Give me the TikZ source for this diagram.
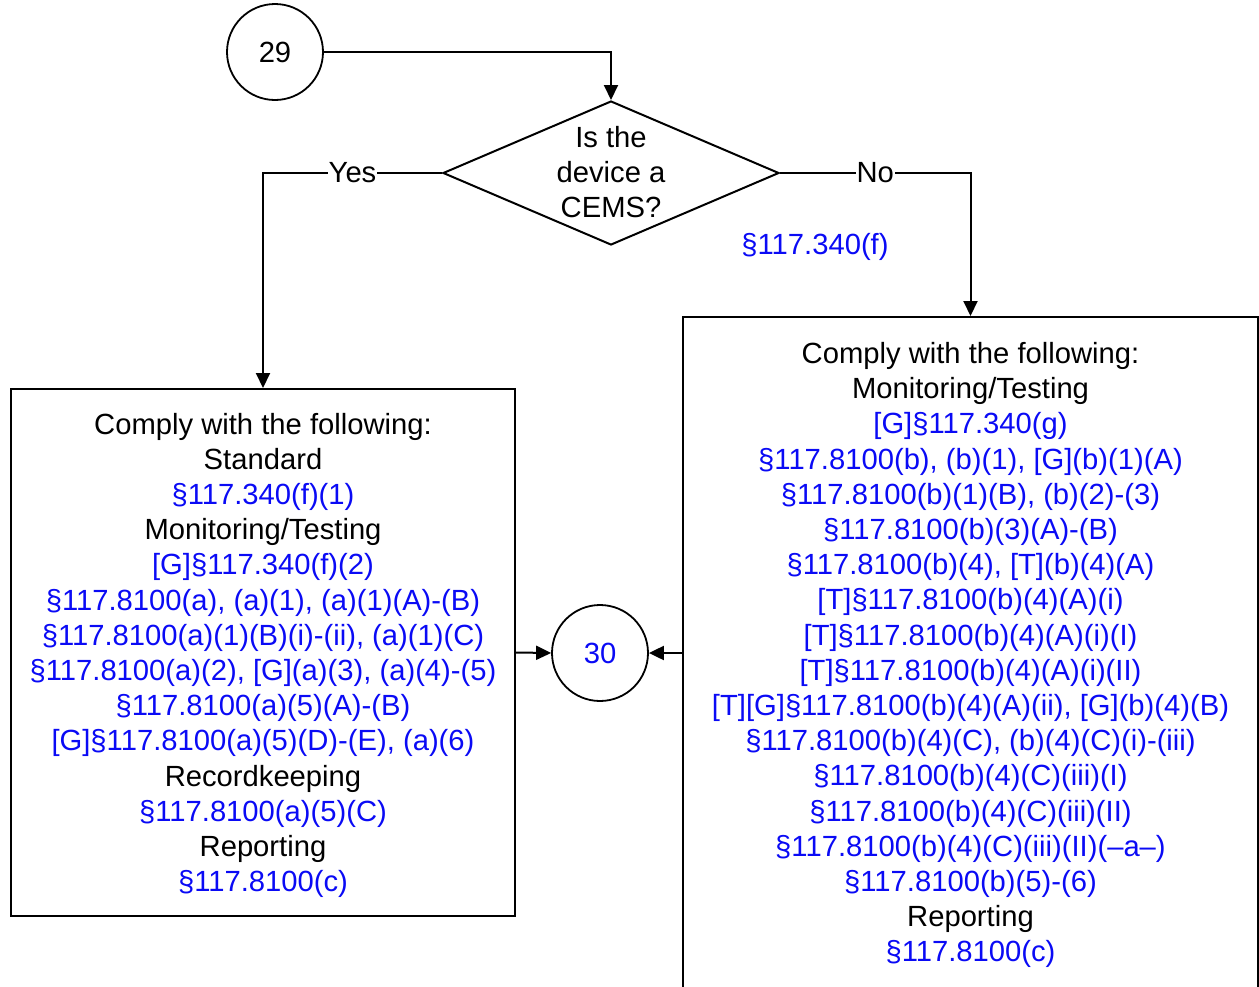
\documentclass[tikz,border=0pt]{standalone}
\usepackage{fontspec}
\setmainfont{Liberation Sans}
\usetikzlibrary{shapes.geometric,arrows.meta}
\definecolor{refblue}{RGB}{10,10,245}
\newcommand{\blueref}[1]{\textcolor{refblue}{#1}}
\begin{document}
\begin{tikzpicture}[x=1pt,y=-1pt,
  every node/.style={font=\fontsize{29.2pt}{35.2pt}\selectfont},
  box/.style={draw, line width=2pt, inner sep=0pt, align=center},
  circ/.style={draw, circle, line width=1.8pt, minimum size=96pt, inner sep=0pt},
  conn/.style={line width=2pt, -{Triangle[length=15pt,width=14pt]}},
  lbl/.style={fill=white, inner sep=1pt}]
\useasboundingbox (0,0) rectangle (1259,986);
\clip (0,0) rectangle (1259,986);
\node[circ] (c29) at (275,52) {29};
\node[draw, diamond, line width=2pt, minimum width=336pt, minimum height=144pt, inner sep=0pt] (dec) at (611,173) {};
\node[align=center, inner sep=0pt] (dectxt) at (611,172) {Is the\\device a\\CEMS?};
\node[box, minimum width=504pt, minimum height=527pt] (lbox) at (263,652.5) {\rule{0pt}{27pt}Comply with the following:\\
Standard\\
\blueref{§117.340(f)(1)}\\
Monitoring/Testing\\
\blueref{[G]§117.340(f)(2)}\\
\blueref{§117.8100(a), (a)(1), (a)(1)(A)-(B)}\\
\blueref{§117.8100(a)(1)(B)(i)-(ii), (a)(1)(C)}\\
\blueref{§117.8100(a)(2), [G](a)(3), (a)(4)-(5)}\\
\blueref{§117.8100(a)(5)(A)-(B)}\\
\blueref{[G]§117.8100(a)(5)(D)-(E), (a)(6)}\\
Recordkeeping\\
\blueref{§117.8100(a)(5)(C)}\\
Reporting\\
\blueref{§117.8100(c)}};
\node[box, minimum width=575pt, minimum height=672pt] (rbox) at (970.5,653) {\rule{0pt}{25.5pt}Comply with the following:\\
Monitoring/Testing\\
\blueref{[G]§117.340(g)}\\
\blueref{§117.8100(b), (b)(1), [G](b)(1)(A)}\\
\blueref{§117.8100(b)(1)(B), (b)(2)-(3)}\\
\blueref{§117.8100(b)(3)(A)-(B)}\\
\blueref{§117.8100(b)(4), [T](b)(4)(A)}\\
\blueref{[T]§117.8100(b)(4)(A)(i)}\\
\blueref{[T]§117.8100(b)(4)(A)(i)(I)}\\
\blueref{[T]§117.8100(b)(4)(A)(i)(II)}\\
\blueref{[T][G]§117.8100(b)(4)(A)(ii), [G](b)(4)(B)}\\
\blueref{§117.8100(b)(4)(C), (b)(4)(C)(i)-(iii)}\\
\blueref{§117.8100(b)(4)(C)(iii)(I)}\\
\blueref{§117.8100(b)(4)(C)(iii)(II)}\\
\blueref{§117.8100(b)(4)(C)(iii)(II)(–a–)}\\
\blueref{§117.8100(b)(5)-(6)}\\
Reporting\\
\blueref{§117.8100(c)}};
\node[circ, text=refblue] (c30) at (600,653) {30};
\node[text=refblue, inner sep=0pt] (cite) at (815,247) {§117.340(f)};
\draw[conn] (c29.east) -| (dec.north);
\draw[conn] (dec.west) -| node[lbl, pos=0.25] {Yes} (lbox.north);
\draw[conn] (dec.east) -| node[lbl, pos=0.25] {No} (rbox.north);
\draw[conn] (lbox.east) -- (c30.west);
\draw[conn] (rbox.west) -- (c30.east);
\end{tikzpicture}
\end{document}
